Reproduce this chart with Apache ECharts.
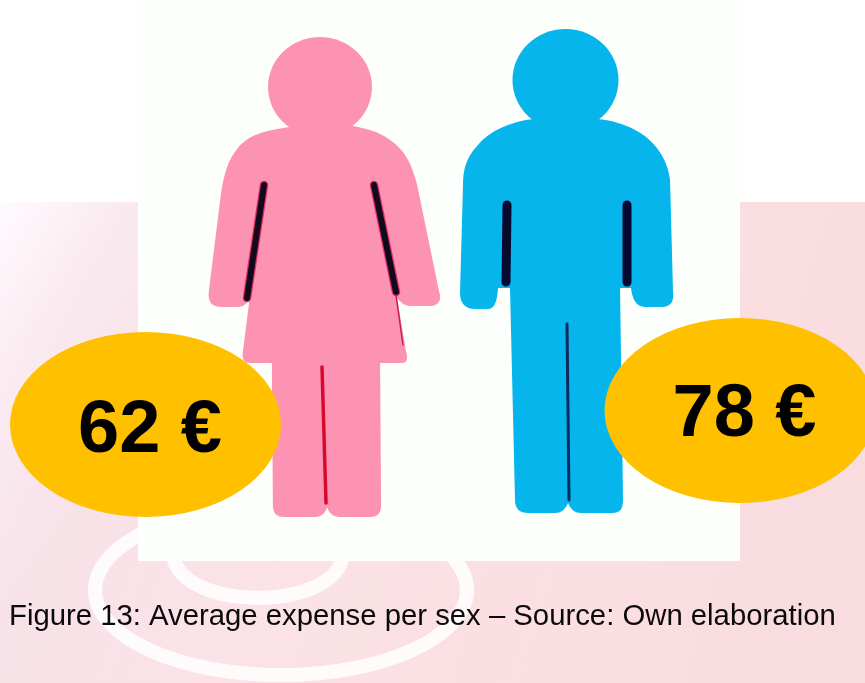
<!DOCTYPE html>
<html>
<head>
<meta charset="utf-8">
<style>html,body{margin:0;padding:0;background:#fff}#c{width:865px;height:683px}</style>
<script src="https://cdn.jsdelivr.net/npm/echarts@6/dist/echarts.min.js"></script>
</head>
<body>
<div id="c"></div>
<script>
const categories = ['Female', 'Male'];
const averageExpense = [62, 78];
const currency = '€';
const caption = 'Figure 13: Average expense per sex – Source: Own elaboration';

const PINK = '#fd93b3', BLUE = '#05b5ec', GOLD = '#ffc000';
const labelOffsets = [[4.5,7],[4.5,5]];
const figures = [
  {
    color: PINK,
    head: {cx:320, cy:87, rx:52, ry:50},
    body: {d:'M290 127C270 130 250 133 238 148C228 160 224 175 221 195L209 292C208 302 212 307 222 307L238 307C244 307 248 303 250 297L243 352C242 360 245 363 250 363L272 363L273 505C273 514 277 517 285 517L315 517C322 517 326 512 327 507C329 513 333 517 340 517L370 517C378 517 381 513 381 505L380 363L402 363C407 363 408 358 406 352L397 298C401 303 405 306 410 306L430 306C438 306 442 300 439 292L417 185C412 165 405 150 390 140C380 132 365 128 352 126Z', x:208.6, y:126, width:231.6, height:391},
    lines: [
      {s:{x1:264,y1:185,x2:247,y2:298}, c:'#100a1c', w:6, under:'#d0003a'},
      {s:{x1:374,y1:185,x2:396,y2:292}, c:'#100a1c', w:6, under:'#d0003a'},
      {s:{x1:396,y1:295,x2:403,y2:345}, c:'#c8204a', w:1.5},
      {s:{x1:322,y1:367,x2:326,y2:503}, c:'#d60a30', w:3.5}
    ]
  },
  {
    color: BLUE,
    head: {cx:565.5, cy:80, rx:53, ry:51},
    body: {d:'M533 119C510 122 490 130 477 146C466 158 463 170 463 185L460 293C460 303 465 309 475 309L488 309C494 309 497 303 498 288L510 288L515 500C515 509 520 513 528 513L555 513C562 513 566 508 568 503C570 508 574 513 581 513L612 513C620 513 623 509 623 500L620 288L631 288C632 298 636 307 645 307L662 307C670 307 674 302 673 293L670 180C668 160 655 140 635 130C625 124 610 120 597 119Z', x:460, y:119, width:213.2, height:394},
    lines: [
      {s:{x1:507,y1:205,x2:506,y2:282}, c:'#060a30', w:9},
      {s:{x1:627,y1:205,x2:627,y2:282}, c:'#060a30', w:9},
      {s:{x1:567,y1:324,x2:569,y2:500}, c:'#0a2a60', w:3}
    ]
  }
];

function renderFigure(params) {
  const f = figures[params.dataIndex];
  const children = [
    {type:'path', shape:{pathData:f.body.d, layout:'cover', x:f.body.x, y:f.body.y, width:f.body.width, height:f.body.height}, style:{fill:f.color}},
    {type:'ellipse', shape:f.head, style:{fill:f.color}}
  ];
  f.lines.forEach(l => {
    if (l.under) children.push({type:'line', shape:l.s, style:{stroke:l.under, lineWidth:l.w+2.5, lineCap:'round', opacity:.7}});
    children.push({type:'line', shape:l.s, style:{stroke:l.c, lineWidth:l.w, lineCap:'round'}});
  });
  return {type:'group', children};
}

const chart = echarts.init(document.getElementById('c'), null, {renderer:'canvas'});
chart.setOption({
  animation:false,
  backgroundColor:'#ffffff',
  title:{text:caption, left:9, top:602, padding:0, z:9, textStyle:{fontFamily:'Liberation Sans', fontWeight:'normal', fontSize:29.3, color:'#0a0a0a'}},
  grid:{left:-151.75, width:1189, top:391.25, height:87.5, containLabel:false, outerBoundsMode:'none'},
  xAxis:{type:'category', data:categories, show:false},
  yAxis:{type:'value', min:0, max:100, show:false},
  graphic:{elements:[
    {type:'rect', z:0, shape:{x:0,y:202,width:865,height:481}, style:{fill:{type:'linear',x:0,y:0,x2:1,y2:.55,colorStops:[{offset:0,color:'#f9e8f0'},{offset:.13,color:'#f7e2e9'},{offset:.35,color:'#fae3e7'},{offset:.7,color:'#fbdfe2'},{offset:1,color:'#f8dce0'}]}}},
    {type:'rect', z:0, shape:{x:0,y:202,width:200,height:481}, style:{fill:{type:'linear',x:0,y:0,x2:1,y2:.3,colorStops:[{offset:0,color:'rgba(255,252,255,.9)'},{offset:.4,color:'rgba(255,250,253,.35)'},{offset:1,color:'rgba(255,250,253,0)'}]}}},
    {type:'ellipse', z:1, shape:{cx:281,cy:590,rx:186,ry:85}, style:{fill:'none',stroke:'#fff',lineWidth:14,opacity:.85}},
    {type:'bezierCurve', z:1, shape:{x1:173,y1:555,cpx1:180,cpy1:612,cpx2:336,cpy2:612,x2:343,y2:555}, style:{fill:'none',stroke:'#fff',lineWidth:14,opacity:.85}},
    {type:'rect', z:2, shape:{x:138,y:0,width:602,height:561}, style:{fill:'#fdfffc'}}
  ]},
  series:[{
    type:'custom',
    z:3,
    coordinateSystem:'none',
    silent:true,
    data:categories,
    renderItem:renderFigure
  },{
    type:'scatter',
    z:6,
    data:averageExpense.map((v,i) => ({value:v, label:{offset:labelOffsets[i]}})),
    symbol:'circle',
    symbolSize:[271,185],
    clip:false,
    itemStyle:{color:GOLD, opacity:1},
    label:{show:true, position:'inside', formatter:p => averageExpense[p.dataIndex] + ' ' + currency, fontFamily:'Liberation Sans', fontWeight:'bold', fontSize:74, color:'#000'}
  }]
});
</script>
</body>
</html>
